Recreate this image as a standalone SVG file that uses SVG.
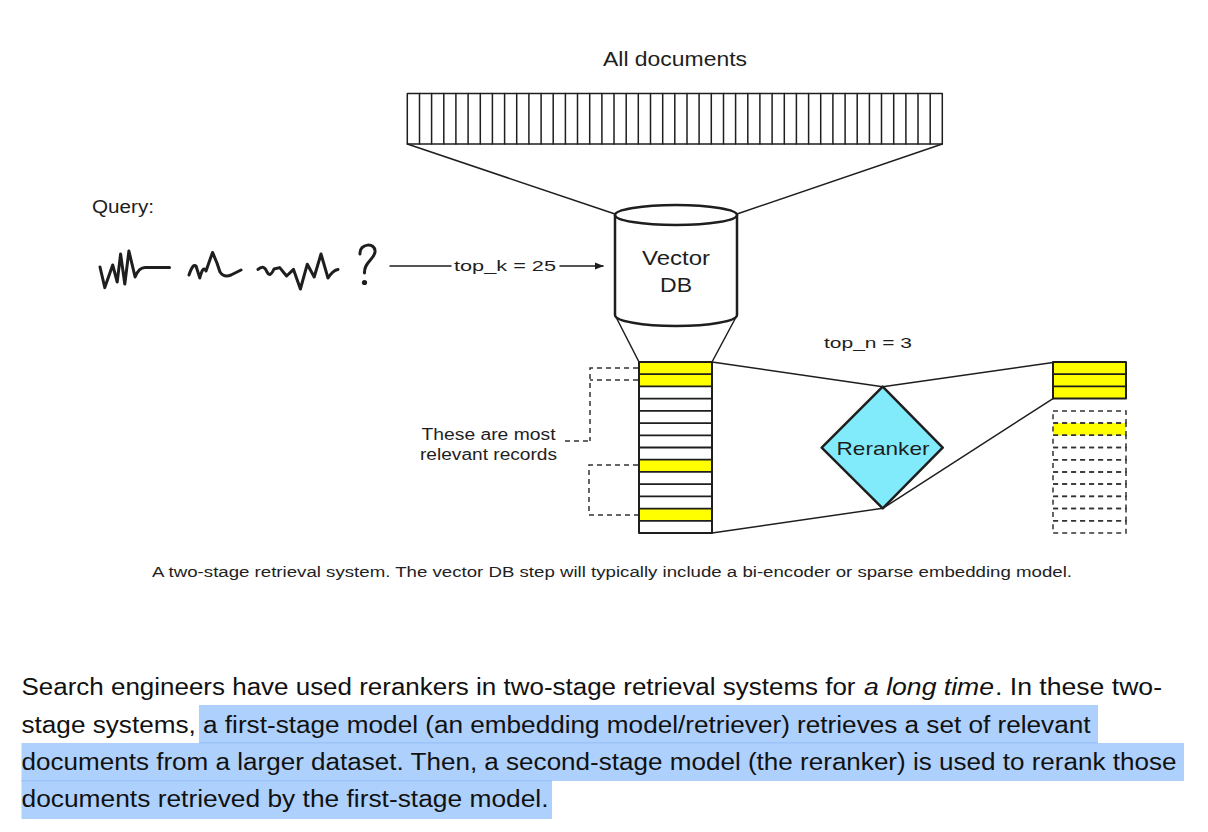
<svg xmlns="http://www.w3.org/2000/svg" width="1208" height="832" viewBox="0 0 1208 832">
<defs>
<style>
.hand{font-family:"Liberation Sans","DejaVu Sans",sans-serif;fill:#1e1e1e}
.ln{stroke:#1e1e1e;stroke-width:1.5;fill:none;stroke-linecap:round;stroke-linejoin:round}
.thick{stroke:#1e1e1e;stroke-width:2.5;fill:none;stroke-linecap:round;stroke-linejoin:round}
.sq{stroke:#1e1e1e;stroke-width:3;fill:none;stroke-linecap:round;stroke-linejoin:round}
.dash{stroke:#333;stroke-width:1.5;fill:none;stroke-dasharray:5 4}
.yel{fill:#ffff00}
.body{font-family:"Liberation Sans","Arial",sans-serif;fill:#111;font-size:23.5px}
.hl{fill:#aed0fc}
</style>
<marker id="arr" viewBox="0 0 10 10" refX="9" refY="5" markerWidth="9" markerHeight="9" orient="auto" markerUnits="userSpaceOnUse">
<path d="M0,1 L10,5 L0,9 Z" fill="#1e1e1e"/>
</marker>
</defs>
<rect width="1208" height="832" fill="#ffffff"/>

<g id="all-documents">
<text class="hand" x="603" y="66" font-size="21" textLength="144" lengthAdjust="spacingAndGlyphs">All documents</text>
<rect class="ln" x="407.3" y="93.5" width="535" height="50.5"/>
<path class="ln" d="M419.5,93.5V144M431.6,93.5V144M443.8,93.5V144M455.9,93.5V144M468.1,93.5V144M480.3,93.5V144M492.4,93.5V144M504.6,93.5V144M516.7,93.5V144M528.9,93.5V144M541.1,93.5V144M553.2,93.5V144M565.4,93.5V144M577.5,93.5V144M589.7,93.5V144M601.9,93.5V144M614,93.5V144M626.2,93.5V144M638.3,93.5V144M650.5,93.5V144M662.7,93.5V144M674.8,93.5V144M687,93.5V144M699.1,93.5V144M711.3,93.5V144M723.5,93.5V144M735.6,93.5V144M747.8,93.5V144M759.9,93.5V144M772.1,93.5V144M784.3,93.5V144M796.4,93.5V144M808.6,93.5V144M820.7,93.5V144M832.9,93.5V144M845.1,93.5V144M857.2,93.5V144M869.4,93.5V144M881.5,93.5V144M893.7,93.5V144M905.9,93.5V144M918,93.5V144M930.2,93.5V144"/>
</g>

<g id="query">
<text class="hand" x="92" y="213" font-size="18" textLength="62" lengthAdjust="spacingAndGlyphs">Query:</text>
<path class="sq" d="M100,267 L104.8,287.6 L112.7,265 L117.2,282 L120.6,254 L124.8,284 L128.9,251 L135.1,277 Q139,267.6 145,267.6 L169.5,267.6"/>
<path class="sq" d="M189,275 Q193,263 196,266 L199.8,278 Q203,265 206,271 L212.5,252.5 Q217,262 220,272 Q224,278 231,275 L241,270"/>
<path class="sq" d="M258,269.4 Q264,264 267,272 Q270,278 274,269 L279.7,267.6 L286.6,276 L293.5,269.4 L300.4,289 L307.3,264.2 L314.2,277 L321,254 L328,278 Q333,270 338,269.4"/>
<path class="sq" d="M360,254 C359,243 376,242 375,252 C374,260 364,262 364.5,273"/>
<circle cx="364.5" cy="282.5" r="2.6" fill="#1e1e1e"/>
</g>

<g id="vector-db">
<ellipse class="thick" cx="676" cy="215" rx="61" ry="10" fill="#ffffff"/>
<path class="thick" d="M615,215 V315 A61,11 0 0 0 737,315 V215"/>
<text class="hand" x="642" y="265" font-size="21" textLength="68" lengthAdjust="spacingAndGlyphs">Vector</text>
<text class="hand" x="660" y="292" font-size="21" textLength="32" lengthAdjust="spacingAndGlyphs">DB</text>
</g>

<g id="candidates">
<rect class="yel" x="639" y="362" width="73" height="24.4"/>
<rect class="yel" x="639" y="459.7" width="73" height="12.2"/>
<rect class="yel" x="639" y="508.6" width="73" height="12.2"/>
<rect class="thick" style="stroke-width:2" x="639" y="362" width="73" height="171"/>
<path class="ln" style="stroke-width:1.8" d="M639,374.2H712M639,386.4H712M639,398.6H712M639,410.9H712M639,423.1H712M639,435.3H712M639,447.5H712M639,459.7H712M639,471.9H712M639,484.1H712M639,496.4H712M639,508.6H712M639,520.8H712"/>
</g>

<g id="relevant-label">
<text class="hand" x="421.5" y="440" font-size="16" textLength="134" lengthAdjust="spacingAndGlyphs">These are most</text>
<text class="hand" x="420" y="460" font-size="16" textLength="137" lengthAdjust="spacingAndGlyphs">relevant records</text>
<path class="dash" d="M638,368H590V441M638,380H590M565,441H590M638,465H589V515H638"/>
</g>

<g id="reranker">
<path d="M882.7,386.7 L942.7,447.7 L882.7,508.3 L821.7,447.7 Z" fill="#82ebfb" stroke="#1e1e1e" stroke-width="2.5" stroke-linejoin="round"/>
<text class="hand" x="836.5" y="455" font-size="19" textLength="93" lengthAdjust="spacingAndGlyphs">Reranker</text>
</g>

<g id="results">
<rect class="yel" x="1053" y="362" width="73" height="36.6"/>
<rect x="1053" y="362" width="73" height="36.6" class="thick" style="stroke-width:2"/>
<path class="ln" style="stroke-width:1.8" d="M1053,374.2H1126M1053,386.4H1126"/>
<rect class="yel" x="1053" y="423.1" width="73" height="12.2"/>
<g class="dash">
<rect x="1053" y="410.9" width="73" height="12.2"/>
<rect x="1053" y="423.1" width="73" height="12.2"/>
<rect x="1053" y="435.3" width="73" height="12.2"/>
<rect x="1053" y="447.5" width="73" height="12.2"/>
<rect x="1053" y="459.7" width="73" height="12.2"/>
<rect x="1053" y="471.9" width="73" height="12.2"/>
<rect x="1053" y="484.1" width="73" height="12.2"/>
<rect x="1053" y="496.4" width="73" height="12.2"/>
<rect x="1053" y="508.6" width="73" height="12.2"/>
<rect x="1053" y="520.8" width="73" height="12.2"/>
</g>
</g>

<g id="connectors">
<path class="ln" d="M407.3,144 L615,214"/>
<path class="ln" d="M942.3,144 L737,214"/>
<path class="ln" d="M390,266 H451"/>
<text class="hand" x="454" y="271" font-size="15" textLength="102" lengthAdjust="spacingAndGlyphs">top_k = 25</text>
<path class="ln" d="M560,266 H603" marker-end="url(#arr)"/>
<path class="ln" d="M617,319 L639,362"/>
<path class="ln" d="M735,319 L712,362"/>
<path class="ln" d="M712,362 L882.7,386.7"/>
<path class="ln" d="M712,533 L882.7,508.3"/>
<path class="ln" d="M882.7,386.7 L1053,362.5"/>
<path class="ln" d="M882.7,508.3 L1053,398.6"/>
<text class="hand" x="824" y="348" font-size="15" textLength="88" lengthAdjust="spacingAndGlyphs">top_n = 3</text>
</g>

<g id="caption">
<text x="152" y="577" font-family="Liberation Sans, Arial, sans-serif" font-size="15.5" fill="#222" textLength="920" lengthAdjust="spacingAndGlyphs">A two-stage retrieval system. The vector DB step will typically include a bi-encoder or sparse embedding model.</text>
</g>

<g id="paragraph">
<rect class="hl" x="199" y="705" width="899" height="38"/>
<rect class="hl" x="21.5" y="743" width="1162.5" height="38"/>
<rect class="hl" x="21.5" y="781" width="530.5" height="38"/>
<rect x="199" y="742" width="899" height="1.5" fill="#9cc4f8"/>
<rect x="21.5" y="780" width="530.5" height="1.5" fill="#9cc4f8"/>
<text class="body" x="21.5" y="695" textLength="834" lengthAdjust="spacingAndGlyphs">Search engineers have used rerankers in two-stage retrieval systems for</text>
<text class="body" x="864" y="695" font-style="italic" textLength="130" lengthAdjust="spacingAndGlyphs">a long time</text>
<text class="body" x="995" y="695" textLength="167" lengthAdjust="spacingAndGlyphs">. In these two-</text>
<text class="body" x="21.5" y="732.5" textLength="1069" lengthAdjust="spacingAndGlyphs">stage systems, a first-stage model (an embedding model/retriever) retrieves a set of relevant</text>
<text class="body" x="21.5" y="770" textLength="1155" lengthAdjust="spacingAndGlyphs">documents from a larger dataset. Then, a second-stage model (the reranker) is used to rerank those</text>
<text class="body" x="21.5" y="807" textLength="527" lengthAdjust="spacingAndGlyphs">documents retrieved by the first-stage model.</text>
</g>
</svg>
